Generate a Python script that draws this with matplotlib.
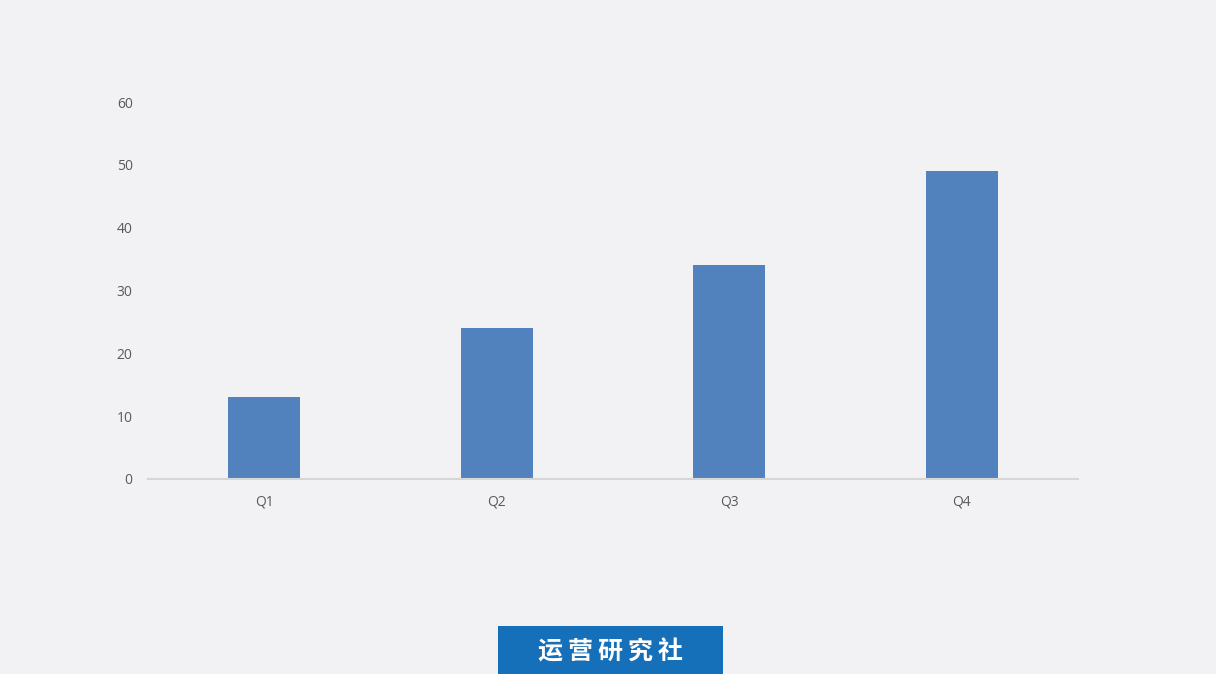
import matplotlib
matplotlib.use('Agg')
import matplotlib.pyplot as plt
from matplotlib.patches import Rectangle

plt.rcParams['font.family'] = ['Open Sans', 'Noto Sans CJK SC', 'DejaVu Sans']

# 数据
quarters = ['Q1', 'Q2', 'Q3', 'Q4']
values = [13, 24, 34, 49]
y_ticks = [0, 10, 20, 30, 40, 50, 60]
badge_text = '运营研究社'

BG = '#f2f2f4'
BAR = '#5282bd'
BADGE = '#1570b9'
TXT = '#595959'

W, H = 1216, 674
fig = plt.figure(figsize=(W / 100, H / 100), dpi=100, facecolor=BG)
ax = fig.add_axes([148 / W, (H - 479) / H, (1078 - 148) / W, (479 - 102) / H])
ax.set_facecolor(BG)

ax.bar(range(len(quarters)), values, width=0.31, color=BAR, zorder=2)
ax.set_xlim(-0.5, len(quarters) - 0.5)
ax.set_ylim(0, 60)
ax.set_yticks(y_ticks)
ax.set_xticks(range(len(quarters)))
ax.set_xticklabels(quarters)

for s in ['top', 'right', 'left']:
    ax.spines[s].set_visible(False)
ax.spines['bottom'].set_color('#d6d6d8')
ax.spines['bottom'].set_linewidth(1.5)
ax.tick_params(axis='both', length=0, labelsize=10, labelcolor=TXT)
ax.tick_params(axis='y', pad=11)
ax.tick_params(axis='x', pad=11)

# 底部标签
fig.patches.append(Rectangle((498 / W, 0), (723 - 498) / W, (674 - 626) / H,
                             transform=fig.transFigure, facecolor=BADGE,
                             edgecolor='none', zorder=1))
fig.text((498 + 723) / 2 / W, (674 - 652) / H, '\u2009'.join(badge_text),
         color='white', fontsize=18, fontweight='bold', ha='center', va='center',
         family=['Noto Sans CJK SC', 'DejaVu Sans'])

fig.savefig('out.png', dpi=100, facecolor=BG)
